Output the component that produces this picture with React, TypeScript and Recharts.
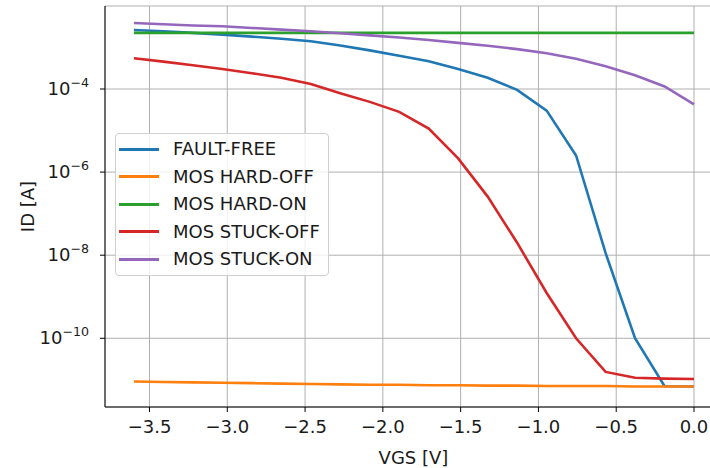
import { LineChart, Line, XAxis, YAxis, CartesianGrid, Legend, Label } from "recharts";

// VGS sweep (20 points from -3.6 V to 0 V)
const vgs = [-3.6, -3.411, -3.221, -3.032, -2.842, -2.653, -2.463, -2.274, -2.084, -1.895, -1.705, -1.516, -1.326, -1.137, -0.947, -0.758, -0.568, -0.379, -0.189, 0];

const faultFree = [2.63e-3, 2.45e-3, 2.24e-3, 2.04e-3, 1.82e-3, 1.62e-3, 1.41e-3, 1.12e-3, 8.51e-4, 6.31e-4, 4.68e-4, 3.02e-4, 1.86e-4, 9.55e-5, 3.02e-5, 2.51e-6, 1.12e-8, 1.0e-10, 7.0e-12, 6.92e-12];
const hardOff = [9.12e-12, 8.91e-12, 8.71e-12, 8.51e-12, 8.32e-12, 8.13e-12, 7.94e-12, 7.76e-12, 7.59e-12, 7.59e-12, 7.41e-12, 7.41e-12, 7.24e-12, 7.24e-12, 7.08e-12, 7.08e-12, 7.08e-12, 6.92e-12, 6.92e-12, 6.92e-12];
const hardOn = [2.25e-3, 2.25e-3, 2.25e-3, 2.25e-3, 2.25e-3, 2.25e-3, 2.25e-3, 2.25e-3, 2.25e-3, 2.25e-3, 2.25e-3, 2.25e-3, 2.25e-3, 2.25e-3, 2.25e-3, 2.25e-3, 2.25e-3, 2.25e-3, 2.25e-3, 2.25e-3];
const stuckOff = [5.5e-4, 4.57e-4, 3.72e-4, 3.02e-4, 2.4e-4, 1.86e-4, 1.32e-4, 7.94e-5, 4.9e-5, 2.82e-5, 1.12e-5, 2.14e-6, 2.57e-7, 2.0e-8, 1.23e-9, 1.0e-10, 1.55e-11, 1.12e-11, 1.07e-11, 1.05e-11];
const stuckOn = [3.89e-3, 3.63e-3, 3.39e-3, 3.24e-3, 2.95e-3, 2.69e-3, 2.45e-3, 2.19e-3, 1.95e-3, 1.74e-3, 1.51e-3, 1.29e-3, 1.1e-3, 9.12e-4, 7.24e-4, 5.37e-4, 3.55e-4, 2.14e-4, 1.15e-4, 4.27e-5];

const xTicks = [-3.5, -3.0, -2.5, -2.0, -1.5, -1.0, -0.5, 0.0];
const yTicks = [1e-10, 1e-8, 1e-6, 1e-4];
const yExponents = ["−10", "−8", "−6", "−4"];

const series = [
  { key: "ff", name: "FAULT-FREE", color: "#1f77b4" },
  { key: "hardOff", name: "MOS HARD-OFF", color: "#ff7f0e" },
  { key: "hardOn", name: "MOS HARD-ON", color: "#2ca02c" },
  { key: "stuckOff", name: "MOS STUCK-OFF", color: "#d62728" },
  { key: "stuckOn", name: "MOS STUCK-ON", color: "#9467bd" },
];

const data = vgs.map((v, i) => ({
  vgs: v,
  ff: faultFree[i],
  hardOff: hardOff[i],
  hardOn: hardOn[i],
  stuckOff: stuckOff[i],
  stuckOn: stuckOn[i],
}));

const FONT = "'DejaVu Sans', sans-serif";
const TXT = "#1a1a1a";
const FS = 18;

const fmtX = (v: number) => (v < 0 ? "\u2212" : "") + Math.abs(v).toFixed(1);

function YTick(props: any) {
  const { x, y, payload } = props;
  const idx = yTicks.indexOf(payload.value);
  const exp = idx >= 0 ? yExponents[idx] : "";
  return (
    <text x={x} y={y + 6} textAnchor="end" fontFamily={FONT} fill={TXT} fontSize={FS}>
      <tspan>10</tspan>
      <tspan dy={-8} fontSize={12.6}>{exp}</tspan>
    </text>
  );
}

function LegendBox() {
  return (
    <div
      style={{
        width: 212,
        height: 139.5,
        border: "1px solid #d0d0d0",
        borderRadius: 4,
        background: "rgba(255,255,255,0.8)",
        fontFamily: FONT,
        fontSize: FS,
        color: TXT,
        paddingTop: 1.5,
        boxSizing: "content-box",
      }}
    >
      {series.map((s) => (
        <div key={s.key} style={{ height: 27.5, display: "flex", alignItems: "center" }}>
          <div style={{ marginLeft: 3, width: 40, height: 3, background: s.color }} />
          <span style={{ marginLeft: 14, whiteSpace: "nowrap", lineHeight: "20px" }}>{s.name}</span>
        </div>
      ))}
    </div>
  );
}

export default function App() {
  return (
    <div style={{ position: "fixed", left: 0, top: 0, width: 710, height: 468, overflow: "hidden", background: "#fff" }}>
      <LineChart width={730} height={468} data={data} margin={{ top: 6, right: 8, bottom: 0, left: 0 }}>
        <CartesianGrid stroke="#b0b0b0" strokeWidth={1} />
        <XAxis
          xAxisId="top"
          orientation="top"
          dataKey="vgs"
          type="number"
          domain={[-3.786, 0.18]}
          allowDataOverflow
          height={0}
          tick={false}
          tickLine={false}
          axisLine={{ stroke: "#000", strokeWidth: 1 }}
        />
        <XAxis
          dataKey="vgs"
          type="number"
          domain={[-3.786, 0.18]}
          allowDataOverflow
          ticks={xTicks}
          tickFormatter={fmtX}
          height={61}
          tickSize={5}
          tickMargin={8}
          interval={0}
          axisLine={{ stroke: "#000", strokeWidth: 1 }}
          tickLine={{ stroke: "#000", strokeWidth: 1 }}
          tick={{ fill: TXT, fontSize: FS, fontFamily: FONT }}
        >
          <Label
            content={(p: any) => {
              const vb = p.viewBox;
              return (
                <text x={vb.x + vb.width / 2} y={464} textAnchor="middle" fontFamily={FONT} fontSize={FS} fill={TXT}>
                  VGS [V]
                </text>
              );
            }}
          />
        </XAxis>
        <YAxis
          scale="log"
          type="number"
          domain={[2.22e-12, 9.95e-3]}
          allowDataOverflow
          ticks={yTicks}
          interval={0}
          width={105}
          tickSize={5}
          tickMargin={11}
          axisLine={{ stroke: "#000", strokeWidth: 1 }}
          tickLine={{ stroke: "#000", strokeWidth: 1 }}
          tick={<YTick />}
        >
          <Label
            content={() => (
              <text
                x={27}
                y={206.5}
                transform="rotate(-90 27 206.5)"
                textAnchor="middle"
                dominantBaseline="central"
                fontFamily={FONT}
                fontSize={FS}
                fill={TXT}
              >
                ID [A]
              </text>
            )}
          />
        </YAxis>
        {series.map((s) => (
          <Line
            key={s.key}
            dataKey={s.key}
            name={s.name}
            stroke={s.color}
            strokeWidth={2.6}
            dot={false}
            activeDot={false}
            type="linear"
            isAnimationActive={false}
          />
        ))}
        <Legend
          layout="vertical"
          align="center"
          verticalAlign="middle"
          wrapperStyle={{ left: 115, top: 133, width: 214, height: 143 }}
          content={() => <LegendBox />}
        />
      </LineChart>
    </div>
  );
}
